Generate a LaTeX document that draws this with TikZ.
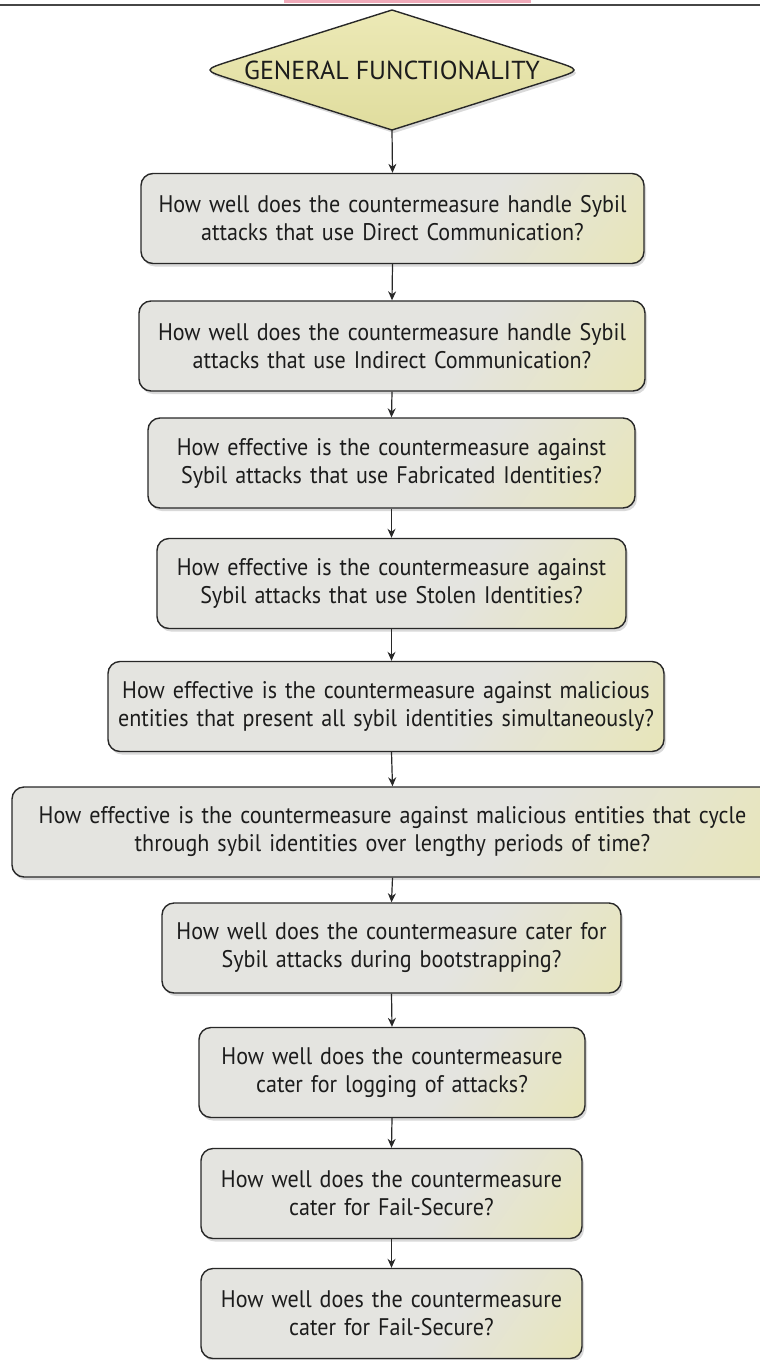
\documentclass[tikz,border=0pt]{standalone}
\usepackage{fontspec}
\setmainfont{PT Sans}
\newfontfamily\qfont[FakeStretch=0.92]{PT Sans}
\usetikzlibrary{shadows,arrows.meta}

\definecolor{boxgray}{RGB}{228,228,224}
\definecolor{boxyel}{RGB}{234,230,160}
\definecolor{diatop}{RGB}{236,233,182}
\definecolor{diabot}{RGB}{224,221,158}
\definecolor{edge}{RGB}{40,40,40}
\definecolor{ink}{RGB}{28,28,28}
\definecolor{rulegray}{RGB}{70,70,70}
\definecolor{headpink}{RGB}{240,170,185}

% grey over most of the box, turning pale yellow towards the lower right
\pgfdeclarehorizontalshading{qshade}{100bp}{color(0bp)=(boxgray); color(50bp)=(boxgray); color(60bp)=(boxgray); color(100bp)=(boxyel)}

\tikzset{
  qbox/.style={draw=edge, line width=1.4pt, rounded corners=12pt,
    shade, shading=qshade, shading angle=-35,
    drop shadow={shadow xshift=2pt, shadow yshift=-3pt, opacity=0.3},
    inner sep=0pt, align=center, text=ink, text width=#1,
    font=\qfont\fontsize{24}{28}\selectfont, minimum height=90pt},
  flow/.style={-{Stealth[length=9pt,width=8pt]}, line width=1.2pt, draw=edge}
}

\begin{document}
\begin{tikzpicture}[x=1pt,y=-1pt]
\useasboundingbox (0,0) rectangle (760,1360);

% page header remnants
\fill[headpink] (284,0) rectangle (531,2.5);
\draw[rulegray, line width=2pt] (0,5) -- (760,5);

% start diamond with rounded side corners
\draw[edge, line width=1.4pt, top color=diatop, bottom color=diabot,
      drop shadow={shadow xshift=2pt, shadow yshift=-3pt, opacity=0.3}]
  (392,10) -- (550,59.9) .. controls (582,70) .. (550,80.1) -- (392,130)
  -- (234,80.1) .. controls (202,70) .. (234,59.9) -- cycle;
\node[text=ink, font=\fontsize{26}{28}\selectfont] (gf) at (392,70) {GENERAL FUNCTIONALITY};
\coordinate (gfbot) at (392,130);

% question boxes
\node[qbox=503pt] (b1) at (392.5,218.5) {How well does the countermeasure handle Sybil\\attacks that use Direct Communication?};
\node[qbox=506pt] (b2) at (392,346) {How well does the countermeasure handle Sybil\\attacks that use Indirect Communication?};
\node[qbox=487pt] (b3) at (391.5,463) {How effective is the countermeasure against\\Sybil attacks that use Fabricated Identities?};
\node[qbox=469pt] (b4) at (391.5,583.5) {How effective is the countermeasure against\\Sybil attacks that use Stolen Identities?};
\node[qbox=556pt] (b5) at (386,706.5) {How effective is the countermeasure against malicious\\entities that present all sybil identities simultaneously?};
\node[qbox=761pt] (b6) at (392.5,832) {How effective is the countermeasure against malicious entities that cycle\\through sybil identities over lengthy periods of time?};
\node[qbox=459pt] (b7) at (391.5,948) {How well does the countermeasure cater for\\Sybil attacks during bootstrapping?};
\node[qbox=386pt] (b8) at (392,1072.5) {How well does the countermeasure\\cater for logging of attacks?};
\node[qbox=381pt] (b9) at (391.5,1193.5) {How well does the countermeasure\\cater for Fail-Secure?};
\node[qbox=381pt] (b10) at (391.5,1313.5) {How well does the countermeasure\\cater for Fail-Secure?};

% connectors
\draw[flow] (gfbot) -- (b1.north);
\draw[flow] (b1.south) -- (b2.north);
\draw[flow] (b2.south) -- (b3.north);
\draw[flow] (b3.south) -- (b4.north);
\draw[flow] (b4.south) -- (b4.south |- b5.north);
\draw[flow] (b5.south -| b4.south) -- (b6.north);
\draw[flow] (b6.south) -- (b7.north);
\draw[flow] (b7.south) -- (b8.north);
\draw[flow] (b8.south) -- (b9.north);
\draw[flow] (b9.south) -- (b10.north);
\end{tikzpicture}
\end{document}
